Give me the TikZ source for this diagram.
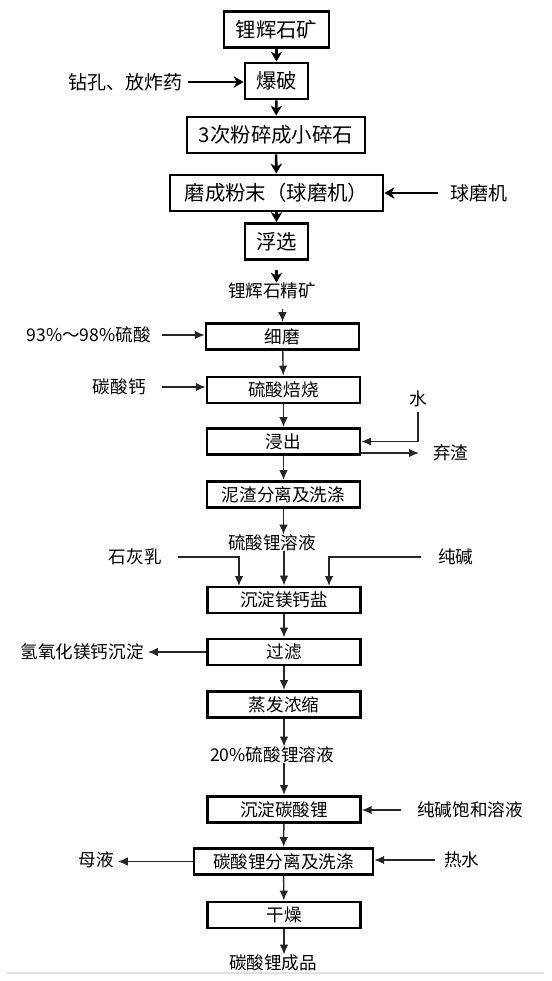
\documentclass[tikz,border=0pt]{standalone}
\usepackage{fontspec}
\setmainfont{Noto Sans CJK SC}
\usetikzlibrary{arrows.meta}

\tikzset{
  bigbox/.style={draw, line width=2pt, minimum height=0.9cm, inner sep=0pt, font=\fontsize{14.5}{16}\selectfont},
  smallbox/.style={draw, line width=1.8pt, minimum width=3.825cm, minimum height=0.66cm, inner sep=0pt, font=\fontsize{12.5}{14}\selectfont},
  bigtxt/.style={inner sep=0pt, font=\fontsize{13.5}{15}\selectfont},
  thintxt/.style={inner sep=0pt, font=\fontsize{12.5}{14}\selectfont},
  bigarr/.style={line width=1.8pt, -{Stealth[length=7pt,width=8pt,inset=2pt]}},
  thinarr/.style={line width=1pt, draw=black!85, -{Latex[length=7pt,width=6pt]}},
}

\begin{document}
\begin{tikzpicture}[x=0.025cm,y=-0.025cm]
\useasboundingbox (0,0) rectangle (552,981);


\node[bigbox, minimum width=2.625cm] (ore) at (276.5,29.5) {锂辉石矿};
\node[bigbox, minimum width=1.575cm] (blast) at (276.5,81) {爆破};
\node[bigbox, minimum width=4.45cm] (crush) at (276,135) {3次粉碎成小碎石};
\node[bigbox, minimum width=5.325cm] (grind) at (276.5,193) {磨成粉末（球磨机）};
\node[bigbox, minimum width=1.575cm] (flot) at (276.5,241.5) {浮选};

\node[bigtxt, anchor=east] (drill) at (183,82) {钻孔、放炸药};
\node[bigtxt, anchor=west] (ballmill) at (450,193) {球磨机};

\draw[bigarr] (ore) -- (blast);
\draw[bigarr] (blast) -- (crush);
\draw[bigarr] (crush) -- (grind);
\draw[bigarr] (grind) -- (flot);
\draw[bigarr, shorten <=3.5pt] (drill.east) -- (drill.east -| blast.west);
\draw[bigarr, shorten <=8.5pt] (ballmill.west) -- (ballmill.west -| grind.east);

\coordinate (fx) at (276.5,270);
\node[thintxt] (conc) at (272,291) {锂辉石精矿};
\draw[bigarr] (fx) -- (fx |- conc.north);


% wet part
\node[smallbox] (fine) at (282.5,336.5) {细磨};
\node[smallbox] (roast) at (283.5,390) {硫酸焙烧};
\node[smallbox] (leach) at (283.5,441.5) {浸出};
\node[smallbox] (wash) at (283.5,494.5) {泥渣分离及洗涤};
\node[thintxt] (sol) at (272,543) {硫酸锂溶液};
\node[smallbox] (prec) at (284,600) {沉淀镁钙盐};
\node[smallbox] (filt) at (284,652) {过滤};
\node[smallbox] (evap) at (284,704.5) {蒸发浓缩};
\node[thintxt] (sol20) at (272,755) {20\%硫酸锂溶液};
\node[smallbox] (carb) at (284,809.5) {沉淀碳酸锂};
\node[smallbox, minimum width=4.475cm] (sep) at (283.5,861.5) {碳酸锂分离及洗涤};
\node[smallbox] (dry) at (284,915) {干燥};
\node[thintxt] (prod) at (273,963) {碳酸锂成品};

\coordinate (cin) at (282.5,309);
\draw[thinarr] (cin) -- (fine);
\draw[thinarr] (fine) -- (roast);
\draw[thinarr] (roast) -- (leach);
\draw[thinarr] (leach) -- (wash);
\draw[thinarr] (wash.south) -- (wash.south |- sol.north);
\draw[thinarr] (prec.north |- sol.south) -- (prec.north);
\draw[thinarr] (prec) -- (filt);
\draw[thinarr] (filt) -- (evap);
\draw[thinarr] (evap.south) -- (evap.south |- sol20.north);
\draw[thinarr] (carb.north |- sol20.south) -- (carb.north);
\draw[thinarr] (carb) -- (sep);
\draw[thinarr] (sep) -- (dry);
\draw[thinarr] (dry.south) -- (dry.south |- prod.north);

\node[thintxt, anchor=east] (acid) at (151,335) {93\%～98\%硫酸};
\node[thintxt, anchor=east] (calc) at (146,387) {碳酸钙};
\node[thintxt] (water) at (418,399) {水};
\node[thintxt, anchor=west] (slag) at (433,453) {弃渣};
\node[thintxt, anchor=east] (lime) at (162,557) {石灰乳};
\node[thintxt, anchor=west] (soda) at (438,557) {纯碱};
\node[thintxt, anchor=east] (mghyd) at (144,652) {氢氧化镁钙沉淀};
\node[thintxt, anchor=west] (sodasat) at (417,810) {纯碱饱和溶液};
\node[thintxt, anchor=east] (mother) at (114,860) {母液};
\node[thintxt, anchor=west] (hotw) at (444,860) {热水};

\coordinate (limein) at (239,586);
\coordinate (sodain) at (329,586);

\draw[thinarr, shorten <=7.8pt] (acid.east) -- (acid.east -| fine.west);
\draw[thinarr, shorten <=11.3pt] (calc.east) -- (calc.east -| roast.west);
\draw[thinarr, shorten <=3pt] (water.south) |- (leach.east);
\draw[thinarr, shorten >=10pt] (leach.east |- slag.west) -- (slag.west);
\draw[thinarr, shorten <=11.3pt] (lime.east) -| (limein);
\draw[thinarr, shorten <=12pt] (soda.west) -| (sodain);
\draw[thinarr, shorten >=2.8pt] (filt.west) -- (filt.west -| mghyd.east);
\draw[thinarr, shorten <=11.3pt] (sodasat.west) -- (sodasat.west -| carb.east);
\draw[thinarr, shorten >=2.8pt] (sep.west) -- (sep.west -| mother.east);
\draw[thinarr, shorten <=6.4pt] (hotw.west) -- (hotw.west -| sep.east);

\draw[black!12, line width=1.4pt] (7,973) -- (544,973);

\end{tikzpicture}
\end{document}
